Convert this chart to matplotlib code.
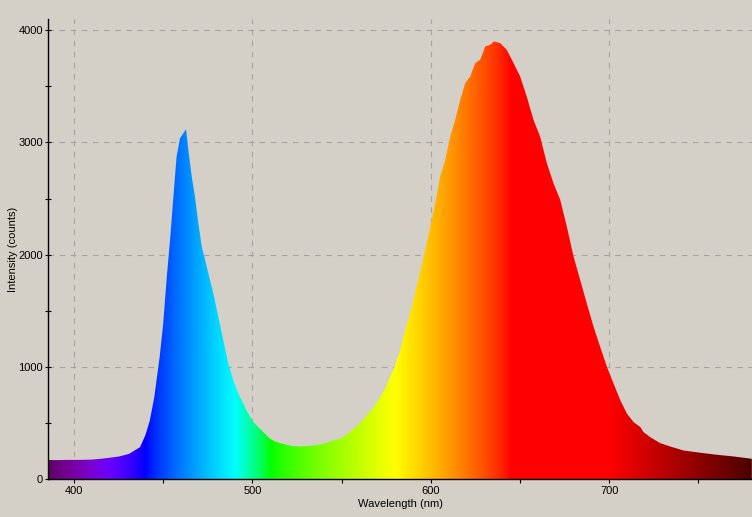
import numpy as np
import matplotlib
matplotlib.use("Agg")
import matplotlib.pyplot as plt
from matplotlib.ticker import MultipleLocator

# Spectrum (wavelength in nm, intensity in counts)
wavelength = [385, 390, 395, 400, 405, 410, 415, 420, 425, 428, 431, 434, 437, 440,
              442.5, 445, 448, 450, 452, 454, 455.7, 457.5, 459.4, 461.3, 462.8,
              464.1, 466, 467.8, 469.7, 471.6, 473.5, 475.3, 478.1, 480.9, 483.7,
              486.5, 489.3, 492.1, 494.9, 497.7, 500.5, 503.3, 506.1, 509.9, 512.7,
              515.5, 519.3, 523, 526.8, 530.5, 534.3, 538, 541.7, 545.5, 549.2, 553,
              556.7, 560.4, 564.2, 568, 571.6, 574.4, 577.2, 580, 582.8, 585.6, 588.4,
              591.2, 594.1, 596.9, 599.7, 602.5, 605.3, 608.1, 610.9, 613.7, 616.5,
              619.3, 622.1, 624.9, 627.7, 630.5, 633.3, 635.5, 638.9, 642.6, 646.4,
              650.1, 653.8, 657.6, 661.3, 665.1, 668.8, 672.6, 676.3, 680.1, 683.8,
              687.5, 691.3, 695, 698.8, 702.5, 706.3, 710, 713.7, 717.5, 719.3, 723,
              728.6, 734.2, 741.7, 751.1, 760.4, 769.8, 780]
intensity = [170, 168, 170, 170, 171, 173, 180, 190, 200, 212, 225, 255, 284, 390,
             522, 730, 1088, 1385, 1802, 2159, 2516, 2873, 3037, 3082, 3118,
             2933, 2695, 2516, 2278, 2070, 1951, 1832, 1654, 1445, 1237,
             1029, 879, 761, 671, 582, 507, 463, 418, 359, 335,
             320, 305, 293, 290, 293, 299, 308, 323, 344, 359, 395,
             448, 498, 567, 641, 730, 805, 909, 1013, 1147, 1326, 1475,
             1654, 1847, 2040, 2248, 2457, 2695, 2844, 3052, 3201, 3379,
             3528, 3588, 3707, 3737, 3855, 3870, 3900, 3885, 3826, 3707,
             3588, 3409, 3201, 3052, 2814, 2636, 2487, 2248, 1980, 1772,
             1564, 1355, 1177, 998, 850, 701, 582, 507, 463, 418, 373,
             320, 290, 254, 234, 216, 201, 180]

x_ticks = [400, 500, 600, 700]
y_ticks = [0, 1000, 2000, 3000, 4000]

BG = "#d4d0c8"


def wl_to_rgb(w, gamma=0.8):
    # approximate visible colour of a wavelength
    if w < 440:
        r, g, b = -(w - 440) / 60.0, 0.0, 1.0
    elif w < 490:
        r, g, b = 0.0, (w - 440) / 50.0, 1.0
    elif w < 510:
        r, g, b = 0.0, 1.0, -(w - 510) / 20.0
    elif w < 580:
        r, g, b = (w - 510) / 70.0, 1.0, 0.0
    elif w < 645:
        r, g, b = 1.0, -(w - 645) / 65.0, 0.0
    else:
        r, g, b = 1.0, 0.0, 0.0
    # dim towards the ends of the visible range
    if w < 420:
        f = 0.3 + 0.7 * (w - 380) / 40.0
    elif w > 700:
        f = 0.3 + 0.7 * (780 - w) / 80.0
    else:
        f = 1.0
    return [(max(c, 0) ** gamma) * f for c in (r, g, b)]


plt.rcParams['font.family'] = ['Liberation Sans', 'DejaVu Sans']
plt.rcParams['font.size'] = 8

fig = plt.figure(figsize=(7.52, 5.17), dpi=100, facecolor=BG)
ax = fig.add_axes([48 / 752, 38 / 517, 704 / 752, 460 / 517], facecolor=BG)

xmin, xmax = 385.4, 780.1
ymax = 4100

# colour gradient, clipped to the area under the spectrum
grad_x = np.linspace(xmin, xmax, 800)
grad = np.array([[wl_to_rgb(w) for w in grad_x]])
poly = ax.fill_between(wavelength, 0, intensity, color='none', lw=0)
img = ax.imshow(grad, extent=[xmin, xmax, 0, ymax], aspect='auto',
                interpolation='bilinear', zorder=2)
img.set_clip_path(poly.get_paths()[0], transform=ax.transData)

ax.set_xlim(xmin, xmax)
ax.set_ylim(0, ymax)
ax.set_xticks(x_ticks)
ax.set_yticks(y_ticks)
ax.xaxis.set_minor_locator(MultipleLocator(50))
ax.yaxis.set_minor_locator(MultipleLocator(500))

ax.grid(True, which='major', color='#a4a4a4', linestyle=(0, (5, 5)), lw=0.8, zorder=0)
ax.set_axisbelow(True)

ax.spines['top'].set_visible(False)
ax.spines['right'].set_visible(False)
for s in ('left', 'bottom'):
    ax.spines[s].set_linewidth(1.0)
    ax.spines[s].set_zorder(5)

ax.tick_params(axis='y', which='both', direction='inout', length=5, width=0.8, pad=1)
ax.tick_params(axis='x', which='both', direction='out', length=3, width=0.8, pad=2)

ax.set_xlabel('Wavelength (nm)', labelpad=2)
ax.set_ylabel('Intensity (counts)', labelpad=0.5)

fig.savefig('out.png', dpi=100, facecolor=BG)
